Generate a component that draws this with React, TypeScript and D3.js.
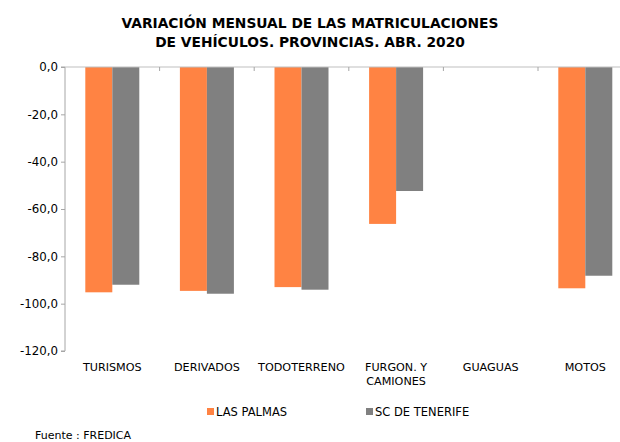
import React, { useEffect, useRef } from "react";
import * as d3 from "d3";

const categories = ["TURISMOS", "DERIVADOS", "TODOTERRENO", "FURGON. Y|CAMIONES", "GUAGUAS", "MOTOS"];
const lasPalmas: (number | null)[] = [-95.2, -94.6, -93.0, -66.3, null, -93.5];
const tenerife: (number | null)[] = [-92.0, -95.8, -94.1, -52.4, null, -88.2];
const seriesNames = ["LAS PALMAS", "SC DE TENERIFE"];
const seriesColors = ["#FF8343", "#808080"];
const yTicks = [0, -20, -40, -60, -80, -100, -120];

const W = 620;
const H = 442;
const font = "DejaVu Sans, Verdana, sans-serif";

const App = () => {
  const ref = useRef<SVGSVGElement>(null);

  useEffect(() => {
    const svg = d3.select(ref.current);
    svg.selectAll("*").remove();

    const left = 65;
    const step = 94.6;
    const top = 67;
    const bottom = 351;

    const x = d3.scaleBand().domain(categories).range([left, left + step * categories.length]).paddingInner(0).paddingOuter(0);
    const y = d3.scaleLinear().domain([0, -120]).range([top, bottom]);
    const barW = 27;

    // title
    const title = svg.append("text")
      .attr("x", 310)
      .attr("text-anchor", "middle")
      .attr("font-family", font)
      .attr("font-weight", "bold")
      .attr("font-size", 13.8)
      .attr("fill", "#000");
    title.append("tspan").attr("x", 310).attr("y", 28).text("VARIACIÓN MENSUAL DE LAS MATRICULACIONES");
    title.append("tspan").attr("x", 310).attr("y", 47).text("DE VEHÍCULOS. PROVINCIAS. ABR. 2020");

    // bars
    const all = [lasPalmas, tenerife];
    all.forEach((vals, s) => {
      svg.append("g")
        .selectAll("rect")
        .data(categories.map((c, i) => ({ c, v: vals[i] })).filter(d => d.v != null))
        .join("rect")
        .attr("x", d => (x(d.c) as number) + x.bandwidth() / 2 - barW + s * barW)
        .attr("y", y(0))
        .attr("width", barW)
        .attr("height", d => y(d.v as number) - y(0))
        .attr("fill", seriesColors[s]);
    });

    // y axis
    const yAxis = d3.axisLeft(y).tickValues(yTicks).tickSize(4)
      .tickFormat(d => d3.format(".1f")(d as number).replace(".", ",").replace("−", "-"));
    svg.append("g")
      .attr("transform", `translate(${left},0)`)
      .call(yAxis)
      .call(g => g.select(".domain").attr("stroke", "#A6A6A6").attr("d", `M-4,${top}H0V${bottom}H-4`))
      .call(g => g.selectAll(".tick line").attr("stroke", "#A6A6A6"))
      .call(g => g.selectAll(".tick text")
        .attr("font-family", font).attr("font-size", 11.8).attr("fill", "#000").attr("x", -7));

    // x axis line at zero with category ticks
    svg.append("line")
      .attr("x1", left).attr("x2", left + step * categories.length)
      .attr("y1", y(0)).attr("y2", y(0))
      .attr("stroke", "#BFBFBF");
    svg.append("g")
      .selectAll("line")
      .data(categories.slice(1))
      .join("line")
      .attr("x1", d => x(d) as number).attr("x2", d => x(d) as number)
      .attr("y1", y(0)).attr("y2", y(0) + 4)
      .attr("stroke", "#A6A6A6");

    // category labels
    svg.append("g")
      .selectAll("text")
      .data(categories)
      .join("text")
      .attr("text-anchor", "middle")
      .attr("font-family", font)
      .attr("font-size", 11.2)
      .attr("fill", "#000")
      .each(function (d) {
        const cx = (x(d) as number) + x.bandwidth() / 2;
        d.split("|").forEach((line, i) => {
          d3.select(this).append("tspan").attr("x", cx).attr("y", 371 + i * 13.5).text(line);
        });
      });

    // legend
    const legendX = [207, 366];
    seriesNames.forEach((name, i) => {
      svg.append("rect")
        .attr("x", legendX[i]).attr("y", 408)
        .attr("width", 7).attr("height", 7)
        .attr("fill", seriesColors[i]);
      svg.append("text")
        .attr("x", legendX[i] + 9).attr("y", 416)
        .attr("font-family", font).attr("font-size", 11.5)
        .attr("fill", "#000")
        .text(name);
    });

    svg.append("text")
      .attr("x", 35).attr("y", 439)
      .attr("font-family", font).attr("font-size", 11)
      .attr("fill", "#000")
      .text("Fuente : FREDICA");
  }, []);

  return (
    <div style={{ position: "absolute", left: 0, top: 0 }}>
      <svg ref={ref} width={W} height={H} style={{ display: "block", background: "#fff" }} />
    </div>
  );
};

export default App;
